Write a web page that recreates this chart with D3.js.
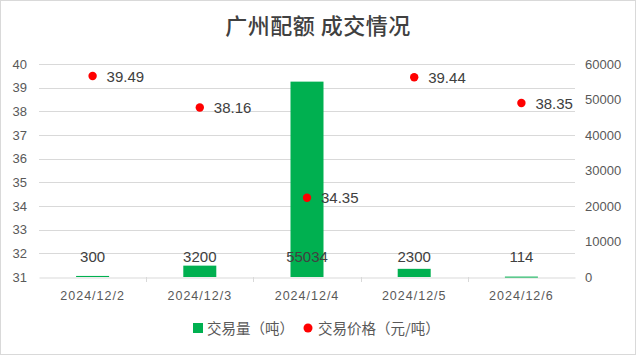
<!DOCTYPE html>
<html><head><meta charset="utf-8">
<script src="https://cdn.jsdelivr.net/npm/d3@7"></script>
<style>body{margin:0;background:#fff}</style>
</head><body>
<script>
const categories = ["2024/12/2","2024/12/3","2024/12/4","2024/12/5","2024/12/6"];
const volumes = [300, 3200, 55034, 2300, 114];
const prices = [39.49, 38.16, 34.35, 39.44, 38.35];
const leftTicks = [31,32,33,34,35,36,37,38,39,40];
const rightTicks = [0,10000,20000,30000,40000,50000,60000];
const title = "广州配额 成交情况";
const seriesNames = ["交易量（吨）","交易价格（元/吨）"];

const W = 636, H = 355;
const m = {l:39, r:61, t:64, b:78};
const svg = d3.select("body").append("svg").attr("width",W).attr("height",H);
svg.append("rect").attr("x",0.5).attr("y",0.5).attr("width",W-1).attr("height",H-1)
  .attr("fill","#fff").attr("stroke","#d9d9d9");

const x = d3.scaleBand().domain(categories).range([m.l, W-m.r]);
const yL = d3.scaleLinear().domain([31,40]).range([H-m.b, m.t]);
const yR = d3.scaleLinear().domain([0,60000]).range([H-m.b, m.t]);
const font = "'Liberation Sans', 'Noto Sans CJK SC', sans-serif";
const cjk = "'Noto Sans CJK SC', sans-serif";
const textCol = "#595959";

svg.append("text").attr("x",W/2).attr("y",34).attr("text-anchor","middle")
  .attr("font-family",cjk).attr("font-size",22).attr("letter-spacing","0.5px")
  .attr("font-weight",500).attr("fill","#404040").text(title);

// gridlines
svg.append("g").selectAll("line").data(leftTicks.slice(1)).join("line")
  .attr("x1",m.l).attr("x2",W-m.r).attr("y1",d=>Math.round(yL(d))+0.5).attr("y2",d=>Math.round(yL(d))+0.5)
  .attr("stroke","#d9d9d9");

// left axis
const gl = svg.append("g").attr("transform",`translate(${m.l},0)`)
  .call(d3.axisLeft(yL).tickValues(leftTicks).tickSize(0).tickPadding(12));
gl.select(".domain").remove();
gl.selectAll("text").attr("font-family",font).attr("font-size",13).attr("fill",textCol);

// right axis
const gr = svg.append("g").attr("transform",`translate(${W-m.r},0)`)
  .call(d3.axisRight(yR).tickValues(rightTicks).tickSize(0).tickPadding(10).tickFormat(d3.format("d")));
gr.select(".domain").remove();
gr.selectAll("text").attr("font-family",font).attr("font-size",13).attr("fill",textCol);

// x axis
const gx = svg.append("g").attr("transform",`translate(0,${Math.round(H-m.b)+0.5})`)
  .call(d3.axisBottom(x).tickSize(0).tickPadding(14));
gx.select(".domain").attr("stroke","#d9d9d9");
gx.selectAll("text").attr("font-family",font).attr("font-size",12.5).attr("fill",textCol).attr("letter-spacing","1px");
svg.append("g").selectAll("line").data(categories.slice(1)).join("line")
  .attr("x1",d=>Math.round(x(d))+0.5).attr("x2",d=>Math.round(x(d))+0.5)
  .attr("y1",H-m.b).attr("y2",H-m.b+5).attr("stroke","#d9d9d9");

// bars
const bw = 33;
svg.append("g").selectAll("rect").data(volumes).join("rect")
  .attr("x",(d,i)=>x(categories[i])+x.bandwidth()/2-bw/2)
  .attr("width",bw)
  .attr("y",d=>yR(d)).attr("height",d=>Math.max(1,yR(0)-yR(d)))
  .attr("fill","#00b050");
svg.append("g").selectAll("text").data(volumes).join("text")
  .attr("x",(d,i)=>x(categories[i])+x.bandwidth()/2)
  .attr("y",yR(0)-15)
  .attr("text-anchor","middle").attr("font-family",font).attr("font-size",15).attr("fill","#404040")
  .text(d=>d);

// dots
svg.append("g").selectAll("circle").data(prices).join("circle")
  .attr("cx",(d,i)=>x(categories[i])+x.bandwidth()/2)
  .attr("cy",d=>yL(d)).attr("r",4.2).attr("fill","#ff0000");
svg.append("g").selectAll("text").data(prices).join("text")
  .attr("x",(d,i)=>x(categories[i])+x.bandwidth()/2+14)
  .attr("y",d=>yL(d)+5.5)
  .attr("font-family",font).attr("font-size",15).attr("fill","#404040")
  .text(d=>d.toFixed(2));

// legend
const lg = svg.append("g").attr("transform","translate(0,328)");
lg.append("rect").attr("x",193).attr("y",-5).attr("width",10).attr("height",10).attr("fill","#00b050");
lg.append("text").attr("x",207).attr("y",5.5).attr("font-family",cjk)
  .attr("font-size",14.5).attr("fill",textCol).text(seriesNames[0]);
lg.append("circle").attr("cx",308).attr("cy",0).attr("r",4.5).attr("fill","#ff0000");
lg.append("text").attr("x",318).attr("y",5.5).attr("font-family",cjk)
  .attr("font-size",14.5).attr("fill",textCol).text(seriesNames[1]);
</script>
</body></html>
